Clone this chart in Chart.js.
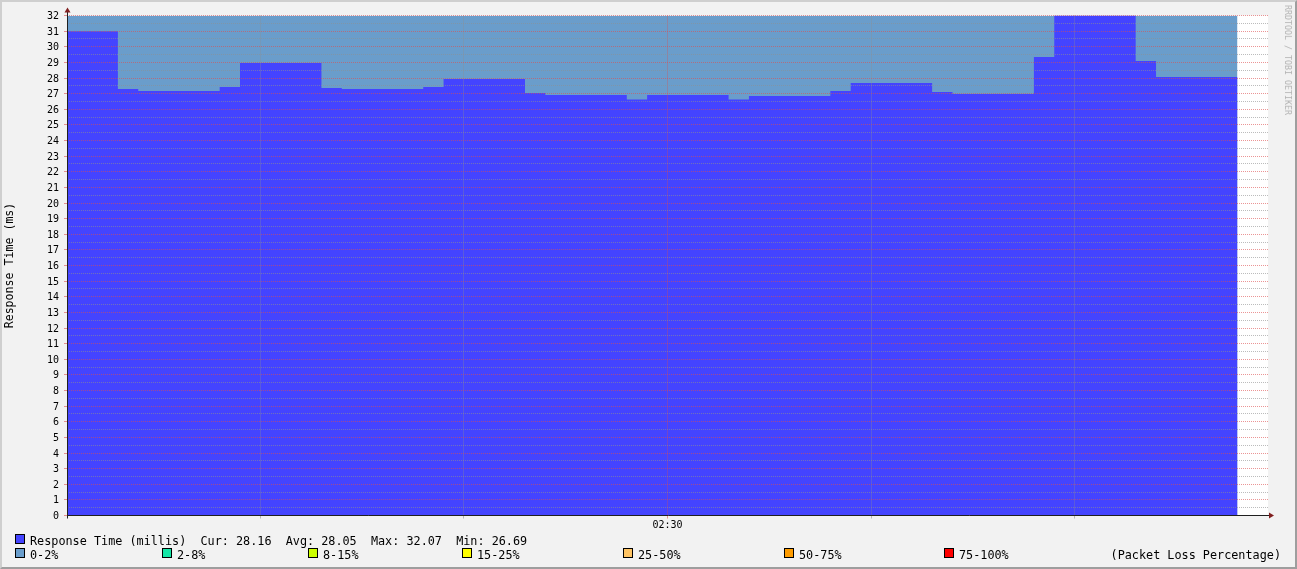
<!DOCTYPE html>
<html>
<head>
<meta charset="utf-8">
<title>Response Time</title>
<script src="https://cdn.jsdelivr.net/npm/chart.js@4.4.1/dist/chart.umd.min.js"></script>
<style>
  body { margin: 0; background: #f2f2f2; }
  #wrap { position: relative; width: 1297px; height: 569px; background: #f2f2f2; overflow: hidden;
          font-family: "DejaVu Sans Mono", monospace; color: #000; }
  #wrap canvas { position: absolute; left: 0; top: 0; }
  #frame { position: absolute; left: 0; top: 0; width: 1297px; height: 569px; box-sizing: border-box;
           border: 2px solid; border-color: #cfcfcf #9e9e9e #9e9e9e #cfcfcf; pointer-events: none; }
  .row { position: absolute; left: 0; top: 0; width: 1297px; height: 14px; font-size: 11.8px; line-height: 14px; white-space: pre; }
  .row span { position: absolute; top: 0; }
  .sw { position: absolute; top: 2px; width: 8px; height: 8px; border: 1px solid #000; }
  #credit { position: absolute; left: 1288px; top: 60px; font-size: 8.3px; color: #b4b4b4; white-space: nowrap;
            transform: translate(-50%, -50%) rotate(90deg); }
</style>
</head>
<body>
<div id="wrap">
  <canvas id="rtChart" width="1297" height="569"></canvas>
  <div id="credit">RRDTOOL / TOBI OETIKER</div>
  <div class="row" id="legend1" style="top:534px"></div>
  <div class="row" id="legend2" style="top:548px"></div>
  <div id="frame"></div>
</div>
<script>
// step start times (minutes after 02:00) and response time held from each start
const stepStart = [0.5, 3, 4, 8, 9, 13, 14, 18, 19, 23, 24, 28, 29, 33, 34, 38, 39, 43, 44, 48, 49, 53, 54, 58];
const responseMs = [31.0, 27.3, 27.17, 27.42, 28.96, 27.36, 27.3, 27.42, 27.94, 27.04, 26.91, 26.62,
                    26.91, 26.62, 26.85, 27.17, 27.68, 27.1, 26.97, 29.34, 32.07, 29.09, 28.06, 28.06];
// packet loss per step (all in the 0-2% band)
const lossPct = [0, 0, 0, 0, 0, 0, 0, 0, 0, 0, 0, 0, 0, 0, 0, 0, 0, 0, 0, 0, 0, 0, 0, 0];

const lossLabels = ['0-2%', '2-8%', '8-15%', '15-25%', '25-50%', '50-75%', '75-100%'];
const lossUpper = [2, 8, 15, 25, 50, 75, 100];
const lossColors = ['#6a9dcb', '#14e6a6', '#ccff00', '#ffff00', '#ffc464', '#ff9c00', '#ff0000'];

const statNames = ['Cur', 'Avg', 'Max', 'Min'];
const statValues = ['28.16', '28.05', '32.07', '26.69'];

const yTicks = [0, 1, 2, 3, 4, 5, 6, 7, 8, 9, 10, 11, 12, 13, 14, 15, 16, 17, 18, 19, 20,
                21, 22, 23, 24, 25, 26, 27, 28, 29, 30, 31, 32];
const xGridMinutes = [10, 20, 30, 40, 50];
const xTickMinutes = [30];
const xTickLabels = ['02:30'];

const X_MIN = 0.5, X_MAX = 59.5;
const RT_BLUE = '#4444ff';
const GRID = 'rgba(143,143,143,0.6)';
const MGRID = 'rgba(222,79,79,0.6)';
const AXIS = 'rgb(31,31,31)';
const ARROW = 'rgb(128,31,31)';
const MONO = 'DejaVu Sans Mono';

function lossBucket(p) {
  for (let i = 0; i < lossUpper.length; i++) if (p <= lossUpper[i]) return i;
  return lossUpper.length - 1;
}

const yTop = yTicks[yTicks.length - 1];

const rrdFrame = {
  id: 'rrdFrame',
  beforeDraw(chart) {
    const a = chart.chartArea, ctx = chart.ctx;
    ctx.save();
    ctx.fillStyle = '#ffffff';
    ctx.fillRect(a.left, a.top, a.right - a.left, a.bottom - a.top);
    ctx.restore();
  },
  afterDraw(chart) {
    const a = chart.chartArea, ctx = chart.ctx;
    const x0 = Math.round(a.left) + 0.5, y0 = Math.round(a.bottom) - 0.5;
    ctx.save();
    ctx.strokeStyle = AXIS;
    ctx.lineWidth = 1;
    ctx.beginPath();
    ctx.moveTo(x0, y0); ctx.lineTo(a.right + 2, y0);
    ctx.moveTo(x0, y0 + 3); ctx.lineTo(x0, a.top - 4);
    ctx.stroke();
    ctx.fillStyle = ARROW;
    ctx.beginPath();
    ctx.moveTo(x0, a.top - 8); ctx.lineTo(x0 - 3, a.top - 3); ctx.lineTo(x0 + 3, a.top - 3);
    ctx.closePath(); ctx.fill();
    ctx.beginPath();
    ctx.moveTo(a.right + 6, y0); ctx.lineTo(a.right + 1, y0 - 3); ctx.lineTo(a.right + 1, y0 + 3);
    ctx.closePath(); ctx.fill();
    ctx.restore();
  }
};

new Chart(document.getElementById('rtChart'), {
  type: 'line',
  data: {
    datasets: [{
      label: 'Response Time (millis)',
      data: stepStart.map((x, i) => ({ x: x, y: responseMs[i] })),
      stepped: true,
      fill: 'origin',
      backgroundColor: RT_BLUE,
      borderColor: 'rgba(0,0,0,0)',
      borderWidth: 0,
      pointRadius: 0
    }, {
      label: 'Packet Loss',
      data: stepStart.map(x => ({ x: x, y: yTop })),
      stepped: true,
      fill: 'origin',
      backgroundColor: lossColors[lossBucket(lossPct[0])],
      segment: { backgroundColor: c => lossColors[lossBucket(lossPct[c.p0DataIndex])] },
      borderColor: 'rgba(0,0,0,0)',
      borderWidth: 0,
      pointRadius: 0
    }]
  },
  options: {
    responsive: false,
    animation: false,
    devicePixelRatio: 1,
    layout: { padding: { left: 0, right: 29, top: 15.5, bottom: 33.5 } },
    plugins: { legend: { display: false }, tooltip: { enabled: false } },
    scales: {
      x: {
        type: 'linear',
        min: X_MIN,
        max: X_MAX,
        afterBuildTicks: s => { s.ticks = xGridMinutes.map(v => ({ value: v })); },
        afterFit: s => { s.height = 20; },
        ticks: {
          autoSkip: false,
          maxRotation: 0,
          padding: 1,
          color: '#000',
          font: { family: MONO, size: 10 },
          callback: v => { const k = xTickMinutes.indexOf(v); return k >= 0 ? xTickLabels[k] : ''; }
        },
        grid: {
          z: 1,
          color: c => xTickMinutes.includes(c.tick && c.tick.value) ? MGRID : GRID,
          tickColor: c => xTickMinutes.includes(c.tick && c.tick.value) ? MGRID : GRID,
          tickLength: 3
        },
        border: { display: false, dash: [1, 1] }
      },
      y: {
        min: 0,
        max: yTop,
        afterBuildTicks: s => {
          const t = [];
          yTicks.forEach(v => { t.push({ value: v }); if (v < yTop) t.push({ value: v + 0.5 }); });
          s.ticks = t;
        },
        afterFit: s => { s.width = 67; },
        ticks: {
          autoSkip: false,
          padding: 5,
          labelOffset: 1,
          color: '#000',
          font: { family: MONO, size: 10 },
          callback: v => yTicks.includes(v) ? String(v) : ''
        },
        grid: {
          z: 1,
          color: c => Number.isInteger(c.tick && c.tick.value) ? MGRID : GRID,
          tickColor: c => Number.isInteger(c.tick && c.tick.value) ? MGRID : 'rgba(0,0,0,0)',
          tickLength: 3
        },
        border: { display: false, dash: [1, 1] },
        title: {
          display: true,
          text: 'Response Time (ms)',
          color: '#000',
          font: { family: MONO, size: 11.6 },
          padding: { top: 3, bottom: 0 }
        }
      }
    }
  },
  plugins: [rrdFrame]
});

// legend rows
function swatch(row, x, color) {
  const s = document.createElement('span');
  s.className = 'sw';
  s.style.left = x + 'px';
  s.style.background = color;
  row.appendChild(s);
}
function label(row, x, text) {
  const t = document.createElement('span');
  t.style.left = x + 'px';
  t.textContent = text;
  row.appendChild(t);
}

const legend1 = document.getElementById('legend1');
swatch(legend1, 15, RT_BLUE);
label(legend1, 30, 'Response Time (millis)  ' +
  statNames.map((n, i) => n + ': ' + statValues[i]).join('  '));

const legend2 = document.getElementById('legend2');
const lossX = [15, 162, 308, 462, 623, 784, 944];
lossLabels.forEach((l, i) => {
  swatch(legend2, lossX[i], lossColors[i]);
  label(legend2, lossX[i] + 15, l);
});
const note = document.createElement('span');
note.style.right = '16px';
note.textContent = '(Packet Loss Percentage)';
legend2.appendChild(note);
</script>
</body>
</html>
